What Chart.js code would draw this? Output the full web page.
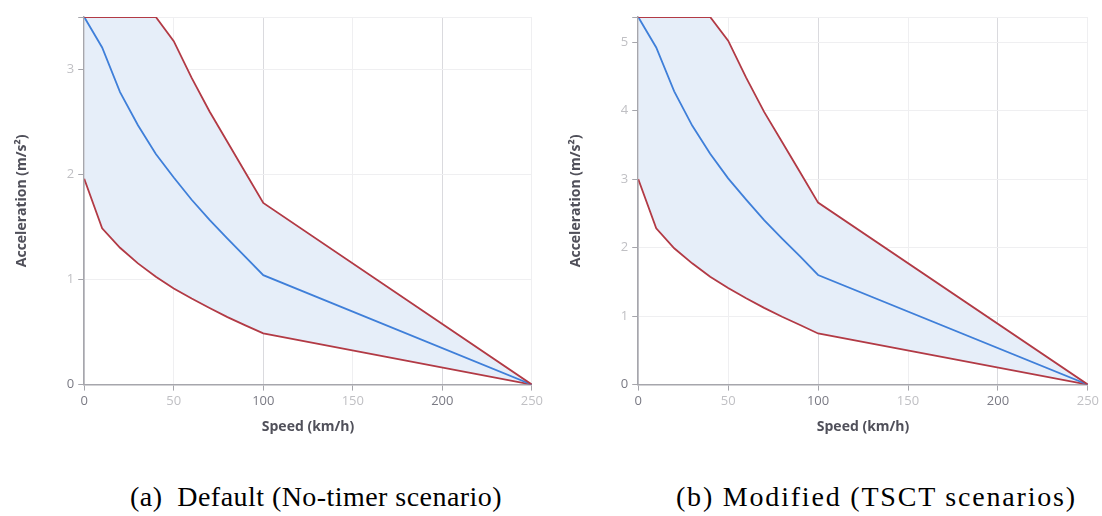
<!DOCTYPE html>
<html>
<head>
<meta charset="utf-8">
<script src="https://cdn.jsdelivr.net/npm/chart.js@4/dist/chart.umd.min.js"></script>
<style>
  body { margin: 0; background: #fff; width: 1102px; height: 516px; position: relative; overflow: hidden; }
  .panel { position: absolute; top: 0; }
  .caption { position: absolute; top: 481px; font-family: 'Liberation Serif', 'Times New Roman', serif; font-size: 28px; color: #000; white-space: pre; }
</style>
</head>
<body>
<div class="panel" style="left:0"><canvas id="chart-a" width="546" height="445"></canvas></div>
<div class="panel" style="left:554px"><canvas id="chart-b" width="548" height="445"></canvas></div>
<div class="caption" style="left:130px; letter-spacing:0.45px">(a)  Default (No-timer scenario)</div>
<div class="caption" style="left:676px; letter-spacing:1.8px">(b) Modified (TSCT scenarios)</div>

<script>
// ── Data (speed in km/h, acceleration in m/s²) ──
const speeds = [0, 10, 20, 30, 40, 50, 60, 70, 80, 90, 100, 250];

// (a) Default
const upperA  = [3.5, 3.5, 3.5, 3.5, 3.5, 3.27, 2.92, 2.60, 2.31, 2.02, 1.73, 0];
const middleA = [3.5, 3.21, 2.785, 2.47, 2.196, 1.972, 1.76, 1.568, 1.39, 1.217, 1.042, 0];
const lowerA  = [1.96, 1.488, 1.303, 1.154, 1.026, 0.915, 0.819, 0.73, 0.643, 0.564, 0.488, 0];

// (b) Modified
const upperB  = [5.365, 5.365, 5.365, 5.365, 5.365, 5.02, 4.48, 3.98, 3.54, 3.10, 2.656, 0];
const middleB = [5.365, 4.92, 4.28, 3.78, 3.37, 3.01, 2.70, 2.40, 2.13, 1.87, 1.60, 0];
const lowerB  = [3.0, 2.28, 1.99, 1.77, 1.575, 1.41, 1.26, 1.12, 0.99, 0.87, 0.746, 0];

const xTicks  = [0, 50, 100, 150, 200, 250];
const yTicksA = [0, 1, 2, 3];
const yTicksB = [0, 1, 2, 3, 4, 5];

const xTitle = 'Speed (km/h)';
const yTitle = 'Acceleration (m/s²)';

// ── Helpers ──
const RED = '#b23a45', BLUE = '#3f7fd9', FILL = '#e6eef9';
const BORDER = '#a6a6ac';
const pts = ys => ys.map((y, i) => ({ x: speeds[i], y }));

Chart.defaults.font.family = "'Open Sans', sans-serif";

function makeChart(id, upper, middle, lower, yTicks) {
  const yMax = Math.max(...upper);
  return new Chart(document.getElementById(id), {
    type: 'line',
    data: {
      datasets: [
        { data: pts(upper), borderColor: RED, backgroundColor: FILL, fill: 2, borderWidth: 1.8, pointRadius: 0, tension: 0 },
        { data: pts(middle), borderColor: BLUE, borderWidth: 1.8, pointRadius: 0, tension: 0, fill: false },
        { data: pts(lower), borderColor: RED, borderWidth: 1.8, pointRadius: 0, tension: 0, fill: false }
      ]
    },
    options: {
      responsive: false,
      animation: false,
      layout: { padding: { top: 17, right: 4, bottom: 8, left: 12 } },
      plugins: {
        legend: { display: false },
        tooltip: { enabled: false },
        filler: { drawTime: 'beforeDatasetsDraw' }
      },
      scales: {
        x: {
          type: 'linear', min: 0, max: 250,
          afterBuildTicks: axis => { axis.ticks = xTicks.map(v => ({ value: v })); },
          grid: {
            color: c => (c.tick && c.tick.value % 100 === 0) ? '#dadade' : '#efeff1',
            tickColor: BORDER, tickLength: 6
          },
          border: { color: BORDER, width: 1.5 },
          ticks: {
            padding: 3, font: { size: 13 },
            color: c => (c.tick.value % 100 === 0) ? '#7a7a84' : '#c0c0c4'
          },
          title: { display: true, text: xTitle, color: '#50505a', font: { size: 14, weight: 'bold' }, padding: { top: 6, bottom: 2 } }
        },
        y: {
          type: 'linear', min: 0, max: yMax,
          afterBuildTicks: axis => { axis.ticks = yTicks.concat([yMax]).map(v => ({ value: v })); },
          grid: { color: '#efeff1', tickColor: BORDER, tickLength: 6 },
          border: { color: BORDER, width: 1.5 },
          ticks: {
            padding: 4, font: { size: 13 },
            color: c => (c.tick.value === 0) ? '#7a7a84' : '#c0c0c4',
            callback: v => yTicks.includes(v) ? String(v) : ''
          },
          title: { display: true, text: yTitle, color: '#50505a', font: { size: 14, weight: 'bold' }, padding: { top: 2, bottom: 32 } }
        }
      }
    }
  });
}

makeChart('chart-a', upperA, middleA, lowerA, yTicksA);
makeChart('chart-b', upperB, middleB, lowerB, yTicksB);
</script>
</body>
</html>
